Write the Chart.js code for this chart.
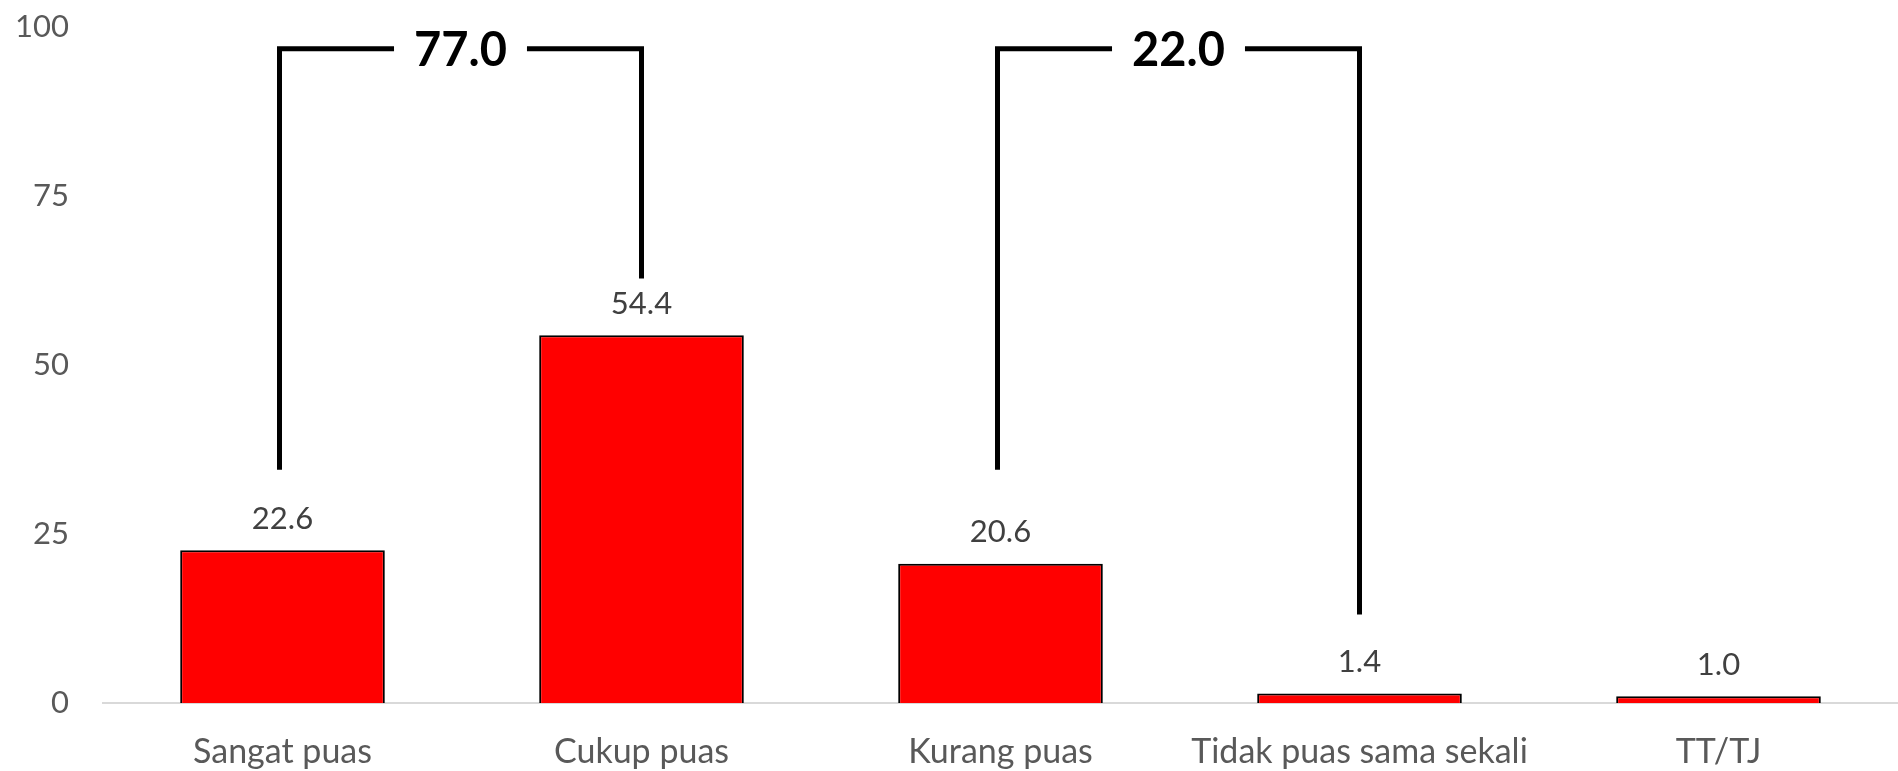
<!DOCTYPE html>
<html>
<head>
<meta charset="utf-8">
<script src="https://cdn.jsdelivr.net/npm/chart.js@4"></script>
<style>
    html, body { margin: 0; padding: 0; background: #fff; }
    #wrap { width: 1898px; height: 771px; }
</style>
</head>
<body>
<div id="wrap"><canvas id="chart"></canvas></div>
<script>
const categories = ['Sangat puas', 'Cukup puas', 'Kurang puas', 'Tidak puas sama sekali', 'TT/TJ'];
const values = [22.6, 54.4, 20.6, 1.4, 1.0];
const yTicks = [0, 25, 50, 75, 100];

// brackets: [from category, to category], label, top level, leg end levels (in axis units)
const bracketPairs = [[0, 1], [2, 3]];
const bracketLabels = ['77.0', '22.0'];
const bracketTops = [96.8, 96.8];
const bracketLegEnds = [[34.5, 62.8], [34.5, 13.1]];

const FONT = 'Lato, "Open Sans", sans-serif';

const labelsPlugin = {
    id: 'barLabels',
    afterDatasetsDraw(chart) {
        const ctx = chart.ctx;
        const meta = chart.getDatasetMeta(0);
        ctx.save();
        ctx.fillStyle = '#404040';
        ctx.font = '31px ' + FONT;
        ctx.textAlign = 'center';
        ctx.textBaseline = 'bottom';
        meta.data.forEach((bar, i) => {
            ctx.fillText(values[i].toFixed(1), bar.x, bar.y - 16);
        });
        ctx.restore();
    }
};

const bracketPlugin = {
    id: 'brackets',
    afterDatasetsDraw(chart) {
        const ctx = chart.ctx;
        const x = chart.scales.x;
        const y = chart.scales.y;
        ctx.save();
        ctx.strokeStyle = '#000';
        ctx.lineWidth = 5;
        ctx.lineJoin = 'miter';
        ctx.font = 'bold 47px ' + FONT;
        ctx.textAlign = 'center';
        ctx.textBaseline = 'middle';
        bracketPairs.forEach((pair, i) => {
            const x1 = x.getPixelForValue(pair[0]) - 3;
            const x2 = x.getPixelForValue(pair[1]);
            const top = y.getPixelForValue(bracketTops[i]);
            const end1 = y.getPixelForValue(bracketLegEnds[i][0]);
            const end2 = y.getPixelForValue(bracketLegEnds[i][1]);
            const mid = (x1 + x2) / 2;
            const gap = ctx.measureText(bracketLabels[i]).width / 2 + 20;

            ctx.beginPath();
            ctx.moveTo(x1, end1);
            ctx.lineTo(x1, top);
            ctx.lineTo(mid - gap, top);
            ctx.moveTo(mid + gap, top);
            ctx.lineTo(x2, top);
            ctx.lineTo(x2, end2);
            ctx.stroke();

            ctx.fillStyle = '#000';
            ctx.fillText(bracketLabels[i], mid, top + 2);
        });
        ctx.restore();
    }
};

new Chart(document.getElementById('chart'), {
    type: 'bar',
    data: {
        labels: categories,
        datasets: [{
            data: values,
            backgroundColor: '#ff0000',
            borderColor: '#000000',
            borderWidth: 2,
            categoryPercentage: 1,
            barPercentage: 0.57
        }]
    },
    options: {
        responsive: true,
        maintainAspectRatio: false,
        animation: false,
        layout: { padding: { top: 27, right: 0, left: 0, bottom: 0 } },
        plugins: {
            legend: { display: false },
            tooltip: { enabled: false }
        },
        scales: {
            x: {
                grid: { display: false, drawTicks: false },
                border: { display: true, color: '#d9d9d9', width: 2 },
                ticks: {
                    color: '#595959',
                    font: { family: FONT, size: 34 },
                    padding: 29,
                    maxRotation: 0
                },
                afterFit(scale) { scale.height = 68; }
            },
            y: {
                min: 0,
                max: 100,
                afterBuildTicks(scale) {
                    scale.ticks = yTicks.map(v => ({ value: v }));
                },
                grid: { display: false, drawTicks: false },
                border: { display: false },
                ticks: {
                    color: '#595959',
                    font: { family: FONT, size: 31 },
                    padding: 34
                },
                afterFit(scale) {
                    scale.width = 103;
                    scale.paddingTop = 0;
                    scale.paddingBottom = 0;
                }
            }
        }
    },
    plugins: [labelsPlugin, bracketPlugin]
});
</script>
</body>
</html>
